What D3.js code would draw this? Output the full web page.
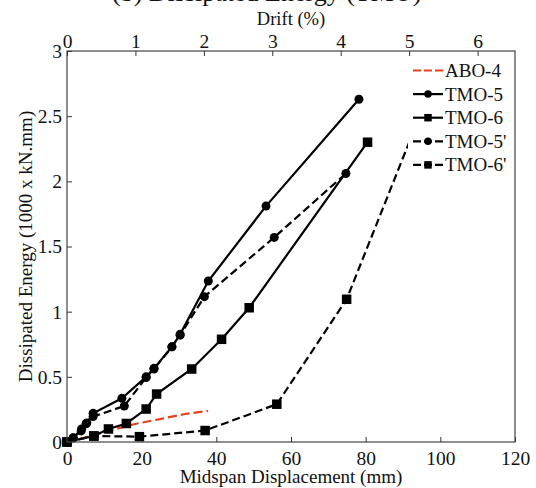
<!DOCTYPE html>
<html>
<head>
<meta charset="utf-8">
<script src="https://cdn.jsdelivr.net/npm/d3@7/dist/d3.min.js"></script>
<style>
  body { margin: 0; background: #fff; }
  svg { display: block; }
  text { font-family: "Liberation Serif", "Times New Roman", serif; fill: #111; }
</style>
</head>
<body>
<svg id="chart" width="536" height="488"></svg>
<script>
// Measured dissipated energy (1000 x kN.mm) against midspan displacement (mm)
const seriesNames = ["ABO-4", "TMO-5", "TMO-6", "TMO-5'", "TMO-6'"];

const abo4Disp   = [0, 5.5, 11.5, 18.2, 24.9, 31.6, 37.8];
const abo4Energy = [0, 0.040, 0.088, 0.138, 0.176, 0.215, 0.238];

const tmo5Disp   = [0, 1.7, 3.9, 5.3, 7.0, 14.7, 21.2, 23.3, 28.1, 30.3, 37.85, 53.3, 78.2];
const tmo5Energy = [0, 0.033, 0.10, 0.146, 0.22, 0.335, 0.50, 0.565, 0.73, 0.826, 1.235, 1.81, 2.63];

const tmo6Disp   = [0, 7.2, 11.1, 15.9, 21.2, 24.0, 33.4, 41.4, 48.8, 80.5];
const tmo6Energy = [0, 0.046, 0.10, 0.142, 0.253, 0.368, 0.56, 0.788, 1.03, 2.30];

const tmo5pDisp   = [0, 1.6, 3.8, 5.1, 7.0, 15.35, 21.2, 23.3, 28.1, 30.3, 36.8, 55.5, 74.7];
const tmo5pEnergy = [0, 0.030, 0.085, 0.14, 0.195, 0.276, 0.495, 0.56, 0.73, 0.82, 1.115, 1.57, 2.06];

const tmo6pDisp   = [0, 7.2, 19.4, 37.0, 56.2, 74.9, 95.0];
const tmo6pEnergy = [0, 0.046, 0.041, 0.088, 0.29, 1.095, 2.54];

const xTicks = [0, 20, 40, 60, 80, 100, 120];
const yTicks = [0, 0.5, 1, 1.5, 2, 2.5, 3];
const driftTicks = [0, 1, 2, 3, 4, 5, 6];
const mmPerDriftPercent = 18.33;

const titleText = "(b) Dissipated Energy (TMO)";
const xTitle = "Midspan Displacement (mm)";
const yTitle = "Dissipated Energy (1000 x kN.mm)";
const topTitle = "Drift (%)";

// ---- layout ----
const svg = d3.select("#chart");
const plotLeft = 67, plotRight = 515, plotTop = 51, plotBottom = 442;

const x = d3.scaleLinear().domain([0, 120]).range([plotLeft, plotRight]);
const y = d3.scaleLinear().domain([0, 3]).range([plotBottom, plotTop]);
const xDrift = d3.scaleLinear().domain([0, 120 / mmPerDriftPercent]).range([plotLeft, plotRight]);

const zip = (xs, ys) => xs.map((d, i) => ({ d, e: ys[i] }));
const series = [
  { name: seriesNames[0], pts: zip(abo4Disp, abo4Energy),   color: "#e5401b", dash: "9,4", marker: null },
  { name: seriesNames[1], pts: zip(tmo5Disp, tmo5Energy),   color: "#000", dash: null,  marker: "circle" },
  { name: seriesNames[2], pts: zip(tmo6Disp, tmo6Energy),   color: "#000", dash: null,  marker: "square" },
  { name: seriesNames[3], pts: zip(tmo5pDisp, tmo5pEnergy), color: "#000", dash: "8,4", marker: "circle" },
  { name: seriesNames[4], pts: zip(tmo6pDisp, tmo6pEnergy), color: "#000", dash: "8,4", marker: "square" }
];

// title, mostly running off the top edge
svg.append("text").attr("x", 112).attr("y", 1)
  .attr("font-size", 26).text(titleText);

// axes with inward ticks
const fontSize = 19.5;
const gx = svg.append("g").attr("transform", `translate(0,${plotBottom})`)
  .call(d3.axisBottom(x).tickValues(xTicks).tickSize(-5).tickPadding(10).tickFormat(d3.format("d")));
const gy = svg.append("g").attr("transform", `translate(${plotLeft},0)`)
  .call(d3.axisLeft(y).tickValues(yTicks).tickSize(-5).tickPadding(5).tickFormat(d => String(d)));
const gt = svg.append("g").attr("transform", `translate(0,${plotTop})`)
  .call(d3.axisTop(xDrift).tickValues(driftTicks).tickSize(-5).tickPadding(3).tickFormat(d3.format("d")));

[gx, gy, gt].forEach(g => {
  g.select(".domain").remove();
  g.selectAll(".tick line").attr("stroke", "#333").attr("stroke-width", 1);
  g.selectAll(".tick text").attr("font-size", fontSize).attr("font-family", '"Liberation Serif", serif').attr("fill", "#111");
});
gy.selectAll(".tick text").attr("dy", "0.33em");
gx.selectAll(".tick text").attr("dy", "0.68em");

// series lines and markers
const line = d3.line().x(p => x(p.d)).y(p => y(p.e));
const plot = svg.append("g");

function drawMarker(g, kind, cx, cy, size) {
  if (kind === "circle") {
    g.append("circle").attr("cx", cx).attr("cy", cy).attr("r", size / 2).attr("fill", "#000");
  } else if (kind === "square") {
    g.append("rect").attr("x", cx - size / 2).attr("y", cy - size / 2)
      .attr("width", size).attr("height", size).attr("fill", "#000");
  }
}

series.forEach(s => {
  plot.append("path").datum(s.pts)
    .attr("d", line).attr("fill", "none")
    .attr("stroke", s.color).attr("stroke-width", 2.2)
    .attr("stroke-dasharray", s.dash);
  if (s.marker) {
    const mg = plot.append("g");
    s.pts.forEach(p => drawMarker(mg, s.marker, x(p.d), y(p.e), s.marker === "circle" ? 9 : 9.5));
  }
});

// frame
svg.append("rect").attr("x", plotLeft).attr("y", plotTop)
  .attr("width", plotRight - plotLeft).attr("height", plotBottom - plotTop)
  .attr("fill", "none").attr("stroke", "#444").attr("stroke-width", 1.2);

// legend
const lg = svg.append("g");
lg.append("rect").attr("x", 408).attr("y", 57).attr("width", 106).attr("height", 120).attr("fill", "#fff");
series.forEach((s, i) => {
  const cy = 70.5 + i * 23.6;
  lg.append("line").attr("x1", 413).attr("x2", 443).attr("y1", cy).attr("y2", cy)
    .attr("stroke", s.color).attr("stroke-width", 2.2)
    .attr("stroke-dasharray", s.dash ? "8,3" : null);
  if (s.marker) drawMarker(lg, s.marker, 428, cy, 7.5);
  lg.append("text").attr("x", 445).attr("y", cy).attr("dy", "0.34em")
    .attr("font-size", 19).text(s.name);
});

// axis titles
svg.append("text").attr("x", (plotLeft + plotRight) / 2).attr("y", 483)
  .attr("text-anchor", "middle").attr("font-size", 19).text(xTitle);
svg.append("text").attr("x", 291).attr("y", 25)
  .attr("text-anchor", "middle").attr("font-size", 18.5).text(topTitle);
svg.append("text")
  .attr("transform", `translate(32,${(plotTop + plotBottom) / 2}) rotate(-90)`)
  .attr("text-anchor", "middle").attr("font-size", 19).text(yTitle);
</script>
</body>
</html>
